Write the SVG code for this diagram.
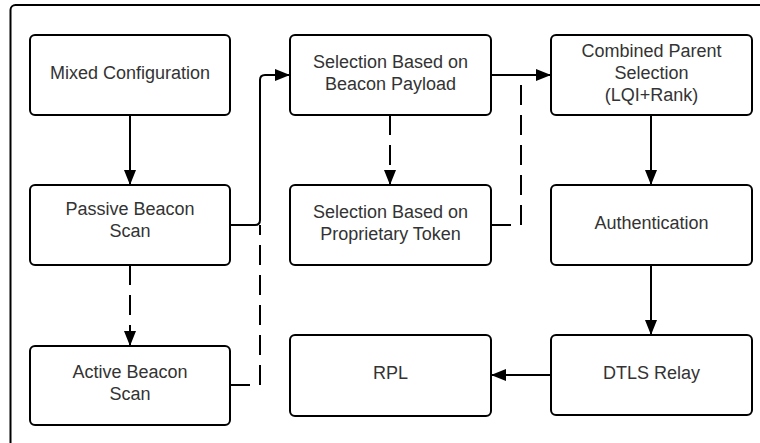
<svg xmlns="http://www.w3.org/2000/svg" width="760" height="443" viewBox="0 0 760 443">
  <defs>
    <marker id="arrow" viewBox="0 0 15 12" refX="15" refY="6" markerWidth="15" markerHeight="12" markerUnits="userSpaceOnUse" orient="auto">
      <path d="M0,0 L15,6 L0,12 Z" fill="#000"/>
    </marker>
    <style>
      .box { fill: #fff; stroke: #000; stroke-width: 2; }
      .lbl { font-family: "Liberation Sans", Arial, sans-serif; font-size: 18px; fill: #333; text-anchor: middle; }
      .edge { fill: none; stroke: #000; stroke-width: 2; }
      .dash { stroke-dasharray: 20 10; }
    </style>
  </defs>
  <rect width="760" height="443" fill="#fff"/>
  <!-- outer frame -->
  <rect x="10.5" y="5" width="800" height="500" rx="5" fill="none" stroke="#000" stroke-width="2"/>

  <g id="connectors">
    <path class="edge" d="M130,115 V185" marker-end="url(#arrow)"/>
    <path class="edge" d="M230,225 H255 Q260,225 260,220 V80 Q260,75 265,75 H290" marker-end="url(#arrow)"/>
    <path class="edge dash" d="M130,265 V346" marker-end="url(#arrow)"/>
    <path class="edge dash" d="M230,385 H260 V225"/>
    <path class="edge dash" d="M390,115 V185" marker-end="url(#arrow)"/>
    <path class="edge" d="M491,75 H551" marker-end="url(#arrow)"/>
    <path class="edge dash" d="M491,225 H521 V85"/>
    <path class="edge" d="M651,115 V185" marker-end="url(#arrow)"/>
    <path class="edge" d="M651,265 V335" marker-end="url(#arrow)"/>
    <path class="edge" d="M551,375 H491" marker-end="url(#arrow)"/>
  </g>

  <g id="mixed-configuration">
    <rect class="box" x="30" y="35" width="200" height="80" rx="5"/>
    <text class="lbl" x="130" y="78.5">Mixed Configuration</text>
  </g>
  <g id="passive-beacon-scan">
    <rect class="box" x="30" y="185" width="200" height="80" rx="5"/>
    <text class="lbl" x="130" y="214.5">Passive Beacon</text>
    <text class="lbl" x="130" y="236.5">Scan</text>
  </g>
  <g id="active-beacon-scan">
    <rect class="box" x="30" y="346" width="200" height="79" rx="5"/>
    <text class="lbl" x="130" y="377.5">Active Beacon</text>
    <text class="lbl" x="130" y="399.5">Scan</text>
  </g>
  <g id="selection-beacon-payload">
    <rect class="box" x="290" y="35" width="201" height="80" rx="5"/>
    <text class="lbl" x="390.5" y="67.5">Selection Based on</text>
    <text class="lbl" x="390.5" y="89.5">Beacon Payload</text>
  </g>
  <g id="selection-proprietary-token">
    <rect class="box" x="290" y="185" width="201" height="80" rx="5"/>
    <text class="lbl" x="390.5" y="217.5">Selection Based on</text>
    <text class="lbl" x="390.5" y="239.5">Proprietary Token</text>
  </g>
  <g id="rpl">
    <rect class="box" x="290" y="335" width="201" height="81" rx="5"/>
    <text class="lbl" x="390.5" y="379">RPL</text>
  </g>
  <g id="combined-parent-selection">
    <rect class="box" x="551" y="35" width="201" height="80" rx="5"/>
    <text class="lbl" x="651.5" y="56.5">Combined Parent</text>
    <text class="lbl" x="651.5" y="78.5">Selection</text>
    <text class="lbl" x="651.5" y="100.5">(LQI+Rank)</text>
  </g>
  <g id="authentication">
    <rect class="box" x="551" y="185" width="201" height="80" rx="5"/>
    <text class="lbl" x="651.5" y="228.5">Authentication</text>
  </g>
  <g id="dtls-relay">
    <rect class="box" x="551" y="335" width="201" height="80" rx="5"/>
    <text class="lbl" x="651.5" y="378.5">DTLS Relay</text>
  </g>
</svg>
